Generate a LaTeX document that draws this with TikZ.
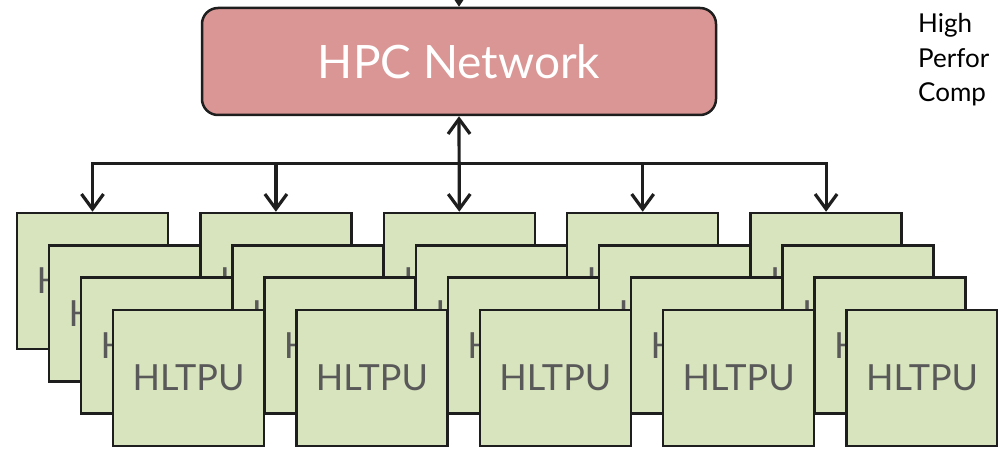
\documentclass[tikz,border=0pt]{standalone}
\usepackage{fontspec}
\setmainfont{Lato}
\usetikzlibrary{arrows.meta}
\definecolor{hpcfill}{HTML}{D99694}
\definecolor{tpufill}{HTML}{D7E4BD}
\definecolor{edgecol}{HTML}{1E1E1E}
\definecolor{tputext}{HTML}{595959}
\begin{document}
\begin{tikzpicture}[x=1pt,y=-1pt,
  tpu/.style={draw=edgecol, fill=tpufill, line width=2.5pt, minimum width=151pt,
    minimum height=136pt, inner sep=0pt, text=tputext, font=\fontsize{36}{36}\selectfont},
  hpc/.style={draw=edgecol, fill=hpcfill, line width=2.5pt, rounded corners=16pt,
    minimum width=514pt, minimum height=107pt, inner sep=0pt, text=white,
    font=\fontsize{46}{46}\selectfont},
  wire/.style={draw=edgecol, line width=3.2pt, >={Straight Barb[length=15pt,width=22pt]}},
  side/.style={anchor=base west, inner sep=0pt, text=black, font=\fontsize{26}{26}\selectfont}]
\useasboundingbox (0,0) rectangle (998,454);

\node[hpc] (hpc) at (459,61.5) {HPC Network};

\foreach \k in {0,...,3}{
  \foreach \g in {0,...,4}{
    \node[tpu] (b\g\k) at ({17+183.4*\g+32*\k+75.5},{213+32.3*\k+68}) {HLTPU};
  }
}

\coordinate (bus) at (459,163.5);
\coordinate (topin) at (459,-30);

\draw[wire,-{Triangle[length=8pt,width=10pt]}] (topin) -- (hpc.north);
\draw[wire,<->] (hpc.south) -- (b20.north);
\draw[wire,->] (bus -| b40.north) -| (b00.north);
\draw[wire,->] (bus -| b00.north) -| (b40.north);
\draw[wire,->] (bus -| b10.north) -- (b10.north);
\draw[wire,->] (bus -| b30.north) -- (b30.north);

\node[side] (t1) at (918,33) {High};
\node[side] (t2) at (918,68) {Perfor};
\node[side] (t3) at (918,102) {Comp};
\end{tikzpicture}
\end{document}
